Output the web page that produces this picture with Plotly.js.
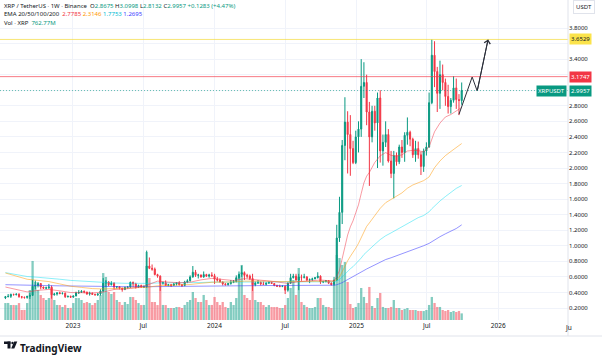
<!DOCTYPE html>
<html>
<head>
<meta charset="utf-8">
<script src="https://cdn.plot.ly/plotly-3.0.1.min.js"></script>
<style>
html,body{margin:0;padding:0;background:#fff;}
#chart{width:602px;height:359px;}
</style>
</head>
<body>
<div id="chart"></div>
<script>
// ---------------- DATA ----------------
const firstWeek = '2022-07-11'; // Monday of first weekly candle

const open = [
0.330,0.346,0.350,0.375,0.372,0.378,0.345,0.340,0.336,0.350,
0.362,0.480,0.490,0.515,0.470,0.455,0.460,0.470,0.370,0.380,
0.395,0.385,0.390,0.345,0.350,0.340,0.355,0.395,0.400,0.415,
0.405,0.380,0.390,0.375,0.370,0.380,0.420,0.520,0.535,0.500,
0.520,0.470,0.475,0.455,0.440,0.465,0.470,0.530,0.510,0.470,
0.490,0.470,0.472,0.740,0.710,0.700,0.630,0.610,0.520,0.525,
0.490,0.500,0.490,0.510,0.525,0.500,0.490,0.535,0.550,0.600,
0.660,0.620,0.625,0.600,0.630,0.610,0.625,0.615,0.570,0.560,
0.535,0.510,0.500,0.515,0.530,0.540,0.590,0.635,0.655,0.620,
0.610,0.580,0.500,0.520,0.530,0.510,0.505,0.520,0.530,0.515,
0.490,0.480,0.475,0.480,0.430,0.520,0.590,0.610,0.560,0.600,
0.595,0.600,0.560,0.565,0.575,0.590,0.610,0.535,0.540,0.550,
0.520,0.500,0.560,1.100,1.430,2.290,2.590,2.430,2.250,2.070,
2.400,2.500,3.050,3.100,2.720,2.400,2.730,2.580,2.900,2.220,
2.330,2.430,2.090,1.930,2.160,2.080,2.270,2.200,2.420,2.460,
2.370,2.170,2.250,2.170,2.020,2.220,2.270,2.840,3.450,3.240,
2.960,3.200,3.100,2.920,2.790,2.870,3.030,2.880,2.8675];

const high = [
0.355,0.380,0.385,0.385,0.389,0.390,0.355,0.345,0.357,0.395,
0.560,0.553,0.535,0.520,0.475,0.475,0.510,0.490,0.395,0.400,
0.410,0.400,0.400,0.360,0.360,0.360,0.410,0.430,0.430,0.425,
0.410,0.410,0.400,0.385,0.390,0.440,0.585,0.560,0.545,0.545,
0.530,0.480,0.480,0.460,0.475,0.480,0.540,0.540,0.525,0.500,
0.500,0.490,0.938,0.850,0.760,0.720,0.640,0.620,0.540,0.555,
0.510,0.510,0.520,0.530,0.545,0.510,0.550,0.570,0.620,0.740,
0.690,0.640,0.630,0.670,0.640,0.640,0.660,0.640,0.600,0.580,
0.540,0.520,0.520,0.560,0.560,0.620,0.670,0.745,0.670,0.640,
0.630,0.640,0.540,0.560,0.540,0.540,0.530,0.540,0.535,0.520,
0.500,0.500,0.490,0.490,0.530,0.640,0.640,0.640,0.640,0.630,
0.640,0.610,0.580,0.590,0.600,0.660,0.620,0.550,0.560,0.560,
0.530,0.600,1.270,1.630,2.360,2.910,2.730,2.680,2.350,2.480,
2.600,3.400,3.360,3.200,2.850,2.800,2.800,2.970,3.000,2.430,
2.600,2.500,2.220,2.220,2.200,2.300,2.360,2.460,2.650,2.480,
2.390,2.350,2.340,2.210,2.250,2.330,2.970,3.6529,3.630,3.300,
3.380,3.330,3.150,3.070,2.900,3.180,3.150,2.950,3.0998];

const low = [
0.315,0.337,0.330,0.360,0.362,0.333,0.322,0.320,0.320,0.316,
0.358,0.440,0.465,0.440,0.445,0.440,0.445,0.320,0.360,0.360,
0.380,0.375,0.330,0.335,0.330,0.335,0.350,0.380,0.395,0.390,
0.370,0.360,0.370,0.360,0.355,0.360,0.410,0.470,0.480,0.490,
0.440,0.450,0.440,0.410,0.430,0.450,0.460,0.470,0.450,0.460,
0.460,0.460,0.460,0.700,0.680,0.620,0.590,0.420,0.500,0.490,
0.480,0.470,0.490,0.490,0.490,0.470,0.480,0.520,0.540,0.590,
0.600,0.580,0.590,0.590,0.600,0.590,0.600,0.510,0.540,0.530,
0.490,0.490,0.490,0.500,0.520,0.530,0.570,0.600,0.560,0.580,
0.560,0.420,0.480,0.510,0.490,0.500,0.490,0.510,0.510,0.480,
0.470,0.470,0.470,0.380,0.410,0.510,0.580,0.550,0.430,0.550,
0.580,0.550,0.520,0.550,0.570,0.580,0.510,0.520,0.530,0.510,
0.490,0.490,0.550,1.050,1.280,2.100,1.930,1.900,2.050,2.050,
2.200,2.400,2.900,2.550,1.770,2.330,2.480,2.000,2.070,2.030,
2.270,2.070,1.870,1.610,2.030,2.050,2.130,2.080,2.300,2.280,
2.130,2.080,2.120,1.910,1.950,2.160,2.260,2.820,3.040,2.720,
2.760,3.000,2.800,2.700,2.700,2.840,2.760,2.680,2.8132];

const close = [
0.346,0.350,0.375,0.372,0.378,0.345,0.340,0.336,0.350,0.362,
0.480,0.490,0.515,0.470,0.455,0.460,0.470,0.370,0.380,0.395,
0.385,0.390,0.345,0.350,0.340,0.355,0.395,0.400,0.415,0.405,
0.380,0.390,0.375,0.370,0.380,0.420,0.520,0.535,0.500,0.520,
0.470,0.475,0.455,0.440,0.465,0.470,0.530,0.510,0.470,0.490,
0.470,0.472,0.740,0.710,0.700,0.630,0.610,0.520,0.525,0.490,
0.500,0.490,0.510,0.525,0.500,0.490,0.535,0.550,0.600,0.660,
0.620,0.625,0.600,0.630,0.610,0.625,0.615,0.570,0.560,0.535,
0.510,0.500,0.515,0.530,0.540,0.590,0.635,0.655,0.620,0.610,
0.580,0.500,0.520,0.530,0.510,0.505,0.520,0.530,0.515,0.490,
0.480,0.475,0.480,0.430,0.520,0.590,0.610,0.560,0.600,0.595,
0.600,0.560,0.565,0.575,0.590,0.610,0.535,0.540,0.550,0.520,
0.500,0.560,1.100,1.430,2.290,2.590,2.430,2.250,2.070,2.400,
2.500,3.050,3.100,2.720,2.400,2.730,2.580,2.900,2.220,2.330,
2.430,2.090,1.930,2.160,2.080,2.270,2.200,2.420,2.460,2.370,
2.170,2.250,2.170,2.020,2.220,2.270,2.840,3.450,3.240,2.960,
3.200,3.100,2.920,2.790,2.870,3.030,2.880,2.8675,2.9957];

// weekly volume, millions of XRP
const volume = [
1950,1960,1720,1730,1710,1950,1150,1160,1950,3450,
6790,4370,3450,2880,2530,2300,2530,3680,2300,1730,
1720,1500,1730,1380,1390,1950,2530,2520,2300,1960,
2070,1950,1720,1960,2300,2880,5400,4950,3220,2990,
3220,2300,2070,1730,2070,1840,2650,2640,2300,1950,
1720,1730,7820,4830,2070,2070,1720,4370,1730,1720,
1380,1380,1380,1500,1490,1380,1730,2070,2300,3220,
2530,2070,2070,2880,2300,1720,1730,2650,2070,1720,
2070,1500,1380,2070,1730,2530,5180,6330,2880,2530,
2300,4600,2300,2070,2070,1730,1500,1720,1500,1490,
1500,1380,1380,1720,2530,3680,4600,2880,5980,2070,
1730,1500,1380,1380,1500,2530,2530,1730,1500,1500,
1380,4030,7480,7130,6330,6670,4370,1840,1380,1500,
1960,3680,2650,1950,3800,1610,1380,2530,3110,1500,
1380,1380,1500,2300,1380,1380,1150,1270,1380,1150,
1150,1150,1040,1040,1030,1150,1730,2650,1960,1500,
1500,1150,1040,1150,920,1040,920,1040,762.77];

// EMA values at sample weeks
const emaDates = [
'2022-07-11','2022-08-08','2022-09-05','2022-10-03','2022-10-31','2022-11-28','2022-12-26',
'2023-01-23','2023-02-20','2023-03-20','2023-04-17','2023-05-15','2023-06-12','2023-07-10',
'2023-08-07','2023-09-04','2023-10-02','2023-10-30','2023-11-27','2023-12-25','2024-01-22',
'2024-02-19','2024-03-18','2024-04-15','2024-05-13','2024-06-10','2024-07-08','2024-08-05',
'2024-09-02','2024-09-30','2024-10-28','2024-11-04','2024-11-11','2024-11-18','2024-11-25',
'2024-12-02','2024-12-09','2024-12-16','2024-12-23','2024-12-30','2025-01-06','2025-01-13',
'2025-01-20','2025-01-27','2025-02-03','2025-02-17','2025-03-03','2025-03-17','2025-03-31',
'2025-04-14','2025-04-28','2025-05-12','2025-05-26','2025-06-09','2025-06-23','2025-07-07',
'2025-07-14','2025-07-21','2025-08-04','2025-08-18','2025-09-01','2025-09-15','2025-09-29'];
const ema20 = [
0.470,0.438,0.407,0.427,0.439,0.421,0.399,
0.397,0.394,0.405,0.438,0.444,0.461,0.491,
0.546,0.533,0.525,0.532,0.562,0.581,0.568,
0.553,0.577,0.568,0.551,0.535,0.516,0.540,
0.553,0.560,0.549,0.550,0.603,0.682,0.835,
1.002,1.138,1.244,1.322,1.425,1.527,1.672,
1.808,1.895,1.943,2.072,2.157,2.198,2.163,
2.155,2.169,2.218,2.227,2.224,2.206,2.272,
2.384,2.466,2.578,2.656,2.688,2.734,2.7785];
const ema50 = [
0.650,0.610,0.570,0.555,0.540,0.510,0.480,
0.465,0.450,0.445,0.450,0.452,0.456,0.466,
0.485,0.490,0.494,0.502,0.518,0.531,0.534,
0.535,0.546,0.548,0.546,0.541,0.537,0.540,
0.542,0.545,0.544,0.545,0.566,0.600,0.666,
0.741,0.807,0.864,0.912,0.970,1.031,1.111,
1.189,1.249,1.294,1.394,1.482,1.554,1.594,
1.630,1.680,1.740,1.782,1.810,1.838,1.885,
1.946,2.004,2.091,2.159,2.212,2.265,2.3146];
const ema100 = [
0.655,0.630,0.605,0.595,0.585,0.570,0.555,
0.545,0.535,0.528,0.522,0.518,0.515,0.517,
0.522,0.522,0.521,0.522,0.528,0.533,0.534,
0.534,0.538,0.539,0.538,0.536,0.534,0.535,
0.536,0.537,0.537,0.537,0.548,0.565,0.599,
0.638,0.674,0.705,0.732,0.765,0.799,0.843,
0.888,0.924,0.953,1.018,1.080,1.129,1.166,
1.206,1.247,1.291,1.329,1.362,1.389,1.437,
1.477,1.512,1.576,1.633,1.686,1.738,1.7753];
const ema200 = [
0.500,0.495,0.490,0.490,0.488,0.485,0.482,
0.480,0.478,0.476,0.475,0.474,0.473,0.474,
0.476,0.477,0.478,0.479,0.481,0.483,0.484,
0.485,0.487,0.488,0.489,0.489,0.489,0.490,
0.491,0.492,0.492,0.493,0.499,0.508,0.526,
0.546,0.565,0.582,0.597,0.615,0.634,0.658,
0.682,0.702,0.719,0.757,0.792,0.823,0.846,
0.871,0.898,0.928,0.954,0.979,1.001,1.031,
1.055,1.077,1.117,1.154,1.188,1.222,1.2695];

// hand-drawn projection path
const projDates = ['2025-09-22','2025-10-26','2025-11-08','2025-12-06'];
const projVals = [2.69, 3.17, 2.99, 3.6529];

// horizontal levels
const athLevel = 3.6529;
const resLevel = 3.1747;
const lastPrice = 2.9957;

const priceTicks = [0.2,0.4,0.6,0.8,1.0,1.2,1.4,1.6,1.8,2.0,2.2,2.4,2.6,2.8,3.0,3.2,3.4,3.6,3.8];
const hiddenTicks = [3.0, 3.2, 3.6]; // covered by the price-scale labels
const timeTicks = ['2023-01-01','2023-07-01','2024-01-01','2024-07-01','2025-01-01','2025-07-01','2026-01-01'];
const timeLabels = ['2023','Jul','2024','Jul','2025','Jul','2026'];

// ---------------- BUILD ----------------
const UP = '#089981', DOWN = '#f23645';
const start = Date.UTC(2022, 6, 11);
const dates = open.map((_, i) => new Date(start + i * 7 * 864e5).toISOString().slice(0, 10));
const volColors = open.map((o, i) => close[i] >= o ? 'rgba(8,153,129,0.5)' : 'rgba(242,54,69,0.5)');

const PW = 568, PH = 320;
const px = x => x / PW;
const py = y => (PH - y) / PH;

const traces = [
  { type: 'bar', x: dates, y: volume, marker: { color: volColors, line: { width: 0 } },
    xaxis: 'x', yaxis: 'y', hoverinfo: 'skip' },
  { type: 'scatter', mode: 'lines', x: emaDates, y: ema200, line: { color: 'rgba(61,61,255,0.55)', width: 1 }, xaxis: 'x', yaxis: 'y2', hoverinfo: 'skip' },
  { type: 'scatter', mode: 'lines', x: emaDates, y: ema100, line: { color: 'rgba(0,220,240,0.45)', width: 1 }, xaxis: 'x', yaxis: 'y2', hoverinfo: 'skip' },
  { type: 'scatter', mode: 'lines', x: emaDates, y: ema50, line: { color: 'rgba(255,152,0,0.5)', width: 1 }, xaxis: 'x', yaxis: 'y2', hoverinfo: 'skip' },
  { type: 'scatter', mode: 'lines', x: emaDates, y: ema20, line: { color: 'rgba(242,54,69,0.5)', width: 1 }, xaxis: 'x', yaxis: 'y2', hoverinfo: 'skip' },
  { type: 'candlestick', x: dates, open: open, high: high, low: low, close: close,
    increasing: { line: { color: UP, width: 1 }, fillcolor: UP },
    decreasing: { line: { color: DOWN, width: 1 }, fillcolor: DOWN },
    whiskerwidth: 0, xaxis: 'x', yaxis: 'y2', hoverinfo: 'skip' },
  { type: 'scatter', mode: 'lines', x: projDates, y: projVals, line: { color: '#2a2e39', width: 1 },
    xaxis: 'x', yaxis: 'y2', hoverinfo: 'skip' }
];

const sp = (c, t) => '<span style="color:' + c + '">' + t + '</span>';
const TXT = '#131722';
const legendFont = { family: 'Noto Sans, sans-serif', size: 6, color: TXT };

const annotations = [
  { xref: 'paper', yref: 'paper', x: px(2), y: py(6), xanchor: 'left', yanchor: 'middle', showarrow: false, font: legendFont,
    text: sp(TXT, 'XRP / TetherUS · 1W · Binance') + '  ' + sp(TXT, 'O') + sp(UP, '2.8675') + ' ' + sp(TXT, 'H') + sp(UP, '3.0998') + ' ' +
          sp(TXT, 'L') + sp(UP, '2.8132') + ' ' + sp(TXT, 'C') + sp(UP, '2.9957') + ' ' + sp(UP, '+0.1283 (+4.47%)') },
  { xref: 'paper', yref: 'paper', x: px(2), y: py(14.5), xanchor: 'left', yanchor: 'middle', showarrow: false, font: legendFont,
    text: sp(TXT, 'EMA 20/50/100/200') + '  ' + sp('#f23645', '2.7785') + ' ' + sp('#ff9800', '2.3146') + ' ' + sp('#00bcd4', '1.7753') + ' ' + sp('#3d3dff', '1.2695') },
  { xref: 'paper', yref: 'paper', x: px(2), y: py(22.5), xanchor: 'left', yanchor: 'middle', showarrow: false, font: legendFont,
    text: sp(TXT, 'Vol · XRP') + '  ' + sp(UP, '762.77M') },
  // price-scale labels
  { xref: 'paper', yref: 'y2', x: 1, xshift: 1, y: athLevel, xanchor: 'left', yanchor: 'middle', showarrow: false,
    text: athLevel.toFixed(4), bgcolor: '#fbe34b', borderpad: 1, font: { family: 'Noto Sans, sans-serif', size: 6, color: TXT } },
  { xref: 'paper', yref: 'y2', x: 1, xshift: 1, y: resLevel, xanchor: 'left', yanchor: 'middle', showarrow: false,
    text: resLevel.toFixed(4), bgcolor: '#f23645', borderpad: 1, font: { family: 'Noto Sans, sans-serif', size: 6, color: '#ffffff' } },
  { xref: 'paper', yref: 'y2', x: 1, xshift: 1, y: lastPrice, xanchor: 'left', yanchor: 'middle', showarrow: false,
    text: lastPrice.toFixed(4), bgcolor: UP, borderpad: 1, font: { family: 'Noto Sans, sans-serif', size: 6, color: '#ffffff' } },
  { xref: 'paper', yref: 'y2', x: 1, xshift: -1, y: lastPrice, xanchor: 'right', yanchor: 'middle', showarrow: false,
    text: 'XRPUSDT', bgcolor: UP, borderpad: 1, font: { family: 'Noto Sans, sans-serif', size: 6, color: '#ffffff' } },
  { xref: 'paper', yref: 'paper', x: px(584), y: py(7), xanchor: 'center', yanchor: 'middle', showarrow: false,
    text: 'USDT', bordercolor: '#e0e3eb', borderwidth: 1, borderpad: 2, font: { family: 'Noto Sans, sans-serif', size: 6, color: TXT } },
  { xref: 'paper', yref: 'paper', x: px(568), y: py(327), xanchor: 'center', yanchor: 'middle', showarrow: false,
    text: 'Ju', font: { family: 'Noto Sans, sans-serif', size: 6.5, color: TXT } },
  // arrow head of projection
  { xref: 'x', yref: 'y2', x: projDates[3], y: projVals[3], axref: 'x', ayref: 'y2', ax: projDates[2], ay: projVals[2],
    showarrow: true, arrowhead: 4, arrowsize: 1.2, arrowwidth: 1, arrowcolor: '#2a2e39', text: '' },
  // TradingView wordmark
  { xref: 'paper', yref: 'paper', x: px(18), y: py(348), xanchor: 'left', yanchor: 'middle', showarrow: false,
    text: '<b>TradingView</b>', font: { family: 'Noto Sans, sans-serif', size: 10, color: TXT } }
];

const shapes = [
  { type: 'line', xref: 'paper', yref: 'y2', x0: 0, x1: 1, y0: athLevel, y1: athLevel, line: { color: 'rgba(245,220,60,0.7)', width: 1 } },
  { type: 'line', xref: 'paper', yref: 'y2', x0: 0, x1: 1, y0: resLevel, y1: resLevel, line: { color: 'rgba(242,54,69,0.65)', width: 1 } },
  { type: 'line', xref: 'paper', yref: 'y2', x0: 0, x1: 1, y0: lastPrice, y1: lastPrice, line: { color: 'rgba(8,153,129,0.6)', width: 1, dash: '1px,2px' } },
  // frame lines
  { type: 'line', xref: 'paper', yref: 'paper', x0: 1, x1: 1, y0: py(336), y1: 1, line: { color: '#e0e3eb', width: 1 } },
  { type: 'line', xref: 'paper', yref: 'paper', x0: 0, x1: px(602), y0: py(336), y1: py(336), line: { color: '#e0e3eb', width: 1 } },
  // TradingView logo mark
  { type: 'rect', xref: 'paper', yref: 'paper', x0: px(4), x1: px(10.5), y0: py(344), y1: py(341.5), fillcolor: TXT, line: { width: 0 } },
  { type: 'rect', xref: 'paper', yref: 'paper', x0: px(7.5), x1: px(10.5), y0: py(348.5), y1: py(341.5), fillcolor: TXT, line: { width: 0 } },
  { type: 'circle', xref: 'paper', yref: 'paper', x0: px(11.3), x1: px(13.7), y0: py(344.2), y1: py(341.8), fillcolor: TXT, line: { width: 0 } },
  { type: 'path', xref: 'paper', yref: 'paper',
    path: 'M ' + px(14.2) + ' ' + py(341.5) + ' L ' + px(17.3) + ' ' + py(341.5) + ' L ' + px(14.3) + ' ' + py(348.5) + ' L ' + px(11.2) + ' ' + py(348.5) + ' Z',
    fillcolor: TXT, line: { width: 0 } }
];

const layout = {
  width: 602, height: 359,
  margin: { l: 0, r: 34, t: 0, b: 39, pad: 0 },
  paper_bgcolor: '#ffffff', plot_bgcolor: '#ffffff',
  showlegend: false,
  bargap: 0.15,
  boxgap: 0.45,
  font: { family: 'Noto Sans, sans-serif', color: TXT },
  xaxis: {
    type: 'date', range: ['2022-06-27', '2026-06-30'],
    rangeslider: { visible: false },
    tickvals: timeTicks, ticktext: timeLabels,
    showgrid: true, gridcolor: '#f0f3fa', gridwidth: 1,
    zeroline: false, showline: false, ticks: '',
    tickfont: { size: 6.5, color: TXT }, anchor: 'y'
  },
  yaxis: {
    range: [0, 36800], visible: false, showgrid: false, zeroline: false, fixedrange: true
  },
  yaxis2: {
    overlaying: 'y', side: 'right', anchor: 'x',
    range: [0.046, 4.16],
    tickvals: priceTicks,
    ticktext: priceTicks.map(v => hiddenTicks.includes(v) ? '' : v.toFixed(4)),
    showgrid: true, gridcolor: '#f0f3fa', gridwidth: 1,
    zeroline: false, showline: false, ticks: '',
    tickfont: { size: 6, color: TXT }
  },
  annotations: annotations,
  shapes: shapes
};

Plotly.newPlot('chart', traces, layout, { staticPlot: true, displayModeBar: false });
</script>
</body>
</html>
